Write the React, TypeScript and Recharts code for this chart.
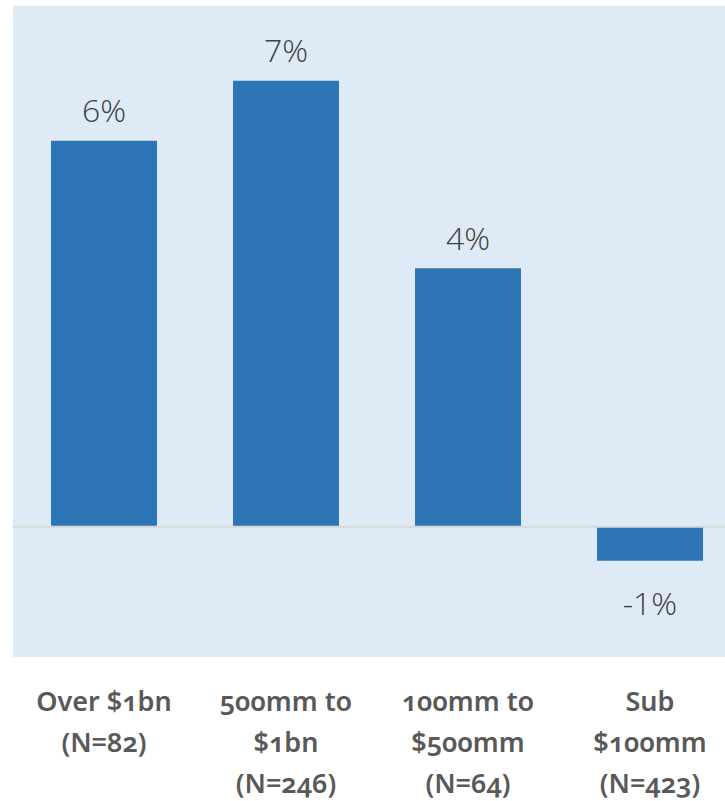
import { BarChart, Bar, XAxis, YAxis, CartesianGrid, ReferenceLine, LabelList } from 'recharts';

const categories = ['Over $1bn (N=82)', '500mm to $1bn (N=246)', '100mm to $500mm (N=64)', 'Sub $100mm (N=423)'];
const tickLines = [
  ['Over $1bn', '(N=82)'],
  ['500mm to', '$1bn', '(N=246)'],
  ['100mm to', '$500mm', '(N=64)'],
  ['Sub', '$100mm', '(N=423)'],
];
const values = [5.93, 6.85, 3.97, -0.52];

const data = categories.map((name, i) => ({ name, value: values[i] }));

function CategoryTick(props: any) {
  const { x, y, payload } = props;
  const lines = tickLines[payload.index] ?? [String(payload.value)];
  return (
    <text
      x={x}
      y={y}
      textAnchor="middle"
      fill="#595959"
      fontFamily="'Noto Sans', 'Open Sans', sans-serif"
      fontWeight={600}
      fontSize={27}
      style={{ fontVariantNumeric: 'oldstyle-nums', fontFeatureSettings: "'onum' 1" }}
    >
      {lines.map((l, i) => (
        <tspan key={i} x={x} dy={i === 0 ? 54 : 41}>
          {l}
        </tspan>
      ))}
    </text>
  );
}

function ValueLabel(props: any) {
  const { x, y, width, height, value } = props;
  const top = Math.min(y, y + height);
  const bottom = Math.max(y, y + height);
  const cx = x + width / 2;
  const ty = value >= 0 ? top - 31 : bottom + 42;
  return (
    <text
      x={cx}
      y={ty}
      textAnchor="middle"
      dominantBaseline="central"
      fill="#404040"
      fontFamily="'Open Sans', sans-serif"
      fontWeight={300}
      fontSize={32}
    >
      {`${Math.round(value)}%`}
    </text>
  );
}

export default function App() {
  return (
    <div style={{ position: 'fixed', left: 0, top: 0, width: 725, height: 801, overflow: 'hidden', background: '#fff' }}>
      <BarChart width={760} height={801} data={data} margin={{ top: 6, left: 13, right: 19, bottom: 0 }}>
        <CartesianGrid fill="#deeaf6" stroke="none" horizontal={false} vertical={false} />
        <XAxis
          dataKey="name"
          height={144}
          axisLine={false}
          tickLine={false}
          tickSize={0}
          tickMargin={0}
          interval={0}
          tick={<CategoryTick />}
        />
        <YAxis hide domain={[-2, 8]} width={0} />
        <ReferenceLine y={0} stroke="#d9d9d9" strokeWidth={2} />
        <Bar dataKey="value" fill="#2e75b6" barSize={106} isAnimationActive={false}>
          <LabelList dataKey="value" content={<ValueLabel />} />
        </Bar>
      </BarChart>
    </div>
  );
}
